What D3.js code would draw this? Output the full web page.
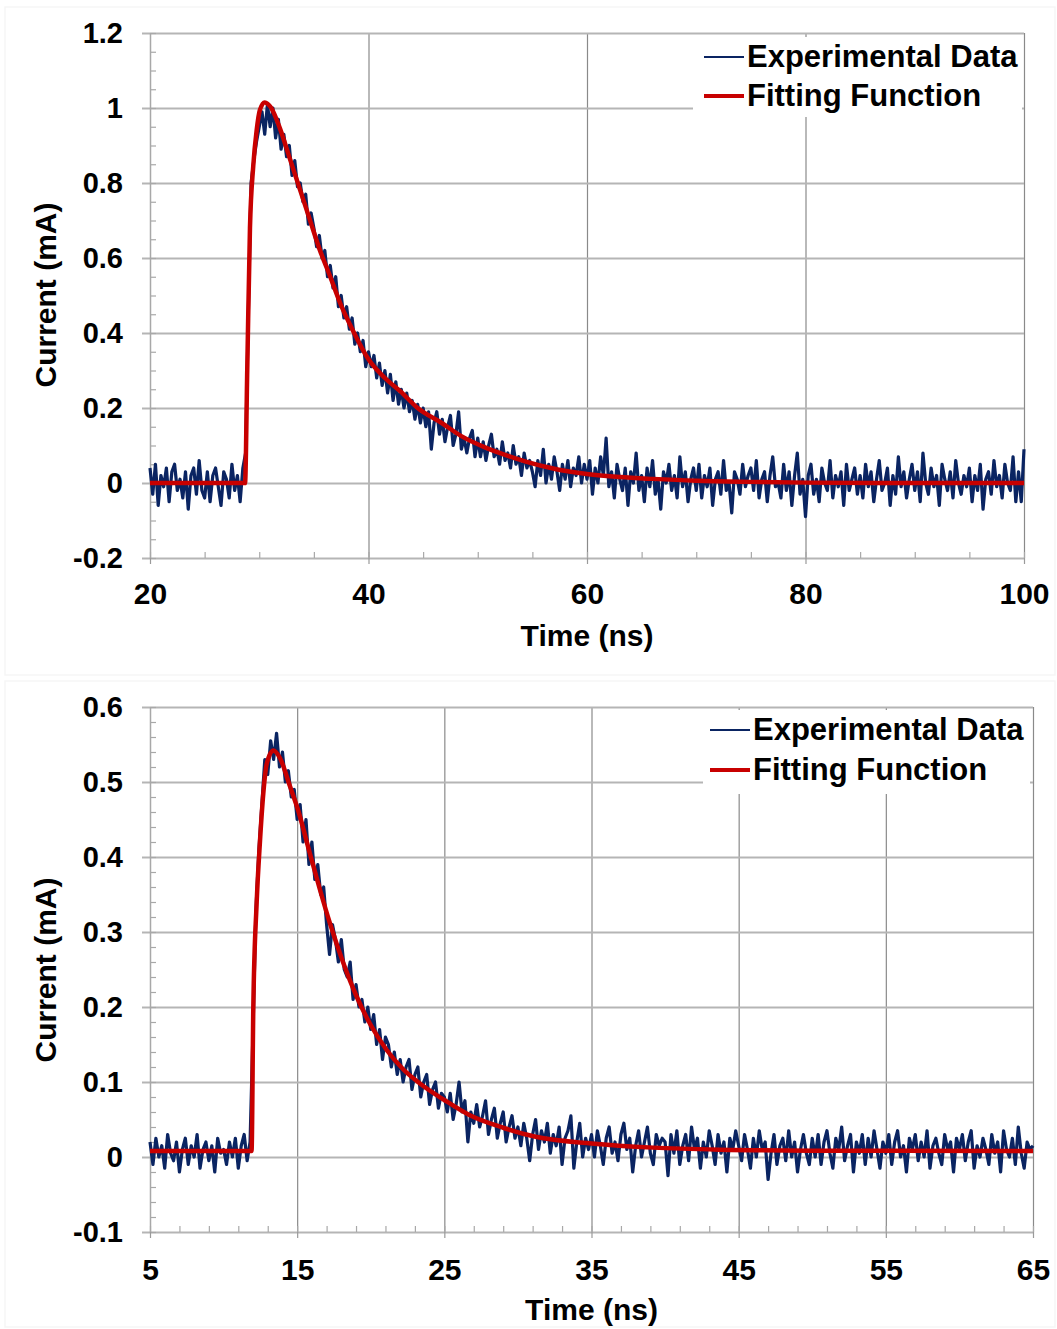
<!DOCTYPE html>
<html><head><meta charset="utf-8">
<script src="https://cdn.jsdelivr.net/npm/d3@7"></script>
<style>
body{margin:0;background:#fff;}
svg text{font-family:"Liberation Sans",Arial,Helvetica,sans-serif;font-weight:bold;fill:#000;}
</style>
</head><body>
<svg id="chart" width="1057" height="1329"></svg>
<script>
// ---------------- Panel 1 data ----------------
const p1TimeStart = 20, p1TimeStep = 0.25; // sampling grid of the measured trace (ns)
const p1Current = [
 0.04,-0.03,0.05,-0.06,0.02,-0.01,0.04,-0.05,0.03,0.05,-0.02,0.01,-0.04,0.03,-0.07,0.02,0.04,-0.03,0.06,-0.02,
 -0.04,0.03,-0.05,0.02,0.04,-0.01,-0.06,0.03,0.01,-0.04,0.05,-0.02,0.02,-0.05,0.04,0.08,0.45,0.80,0.86,0.91,
 0.95,0.99,0.93,1.01,0.95,1.00,0.92,0.97,0.89,0.93,0.87,0.90,0.82,0.86,0.79,0.80,0.75,0.77,0.69,0.72,
 0.68,0.63,0.66,0.60,0.62,0.55,0.58,0.52,0.55,0.47,0.50,0.44,0.47,0.41,0.44,0.37,0.40,0.35,0.38,0.31,
 0.35,0.31,0.34,0.28,0.32,0.26,0.30,0.24,0.29,0.22,0.27,0.21,0.25,0.20,0.24,0.19,0.22,0.17,0.21,0.16,
 0.20,0.15,0.19,0.09,0.16,0.19,0.13,0.17,0.11,0.15,0.18,0.10,0.13,0.19,0.09,0.12,0.08,0.12,0.14,0.07,
 0.12,0.07,0.11,0.06,0.10,0.13,0.07,0.09,0.05,0.11,0.06,0.08,0.04,0.10,0.05,0.07,0.02,0.08,0.04,0.06,
 0.03,-0.01,0.06,0.02,0.09,0.00,0.05,0.01,0.07,0.03,-0.02,0.05,0.01,0.06,-0.01,0.04,0.02,0.07,0.00,0.05,
 0.01,0.06,-0.03,0.04,0.00,0.07,0.02,0.12,-0.01,0.03,-0.04,0.05,0.01,-0.02,0.04,-0.06,0.03,0.00,0.08,-0.02,
 0.02,-0.05,0.04,-0.01,0.06,-0.03,0.01,-0.07,0.03,0.00,0.05,-0.02,0.02,-0.04,0.07,-0.01,0.03,-0.05,0.01,0.04,
 -0.02,0.05,-0.04,0.02,-0.01,0.04,-0.06,0.01,0.03,-0.03,0.06,-0.02,0.00,-0.08,0.03,0.01,-0.03,0.05,-0.01,0.02,
 0.04,-0.02,0.06,-0.04,0.01,0.03,-0.05,0.02,0.07,-0.01,0.00,-0.04,0.05,-0.02,0.03,-0.06,0.02,0.08,-0.03,0.01,
 -0.09,0.02,0.05,-0.03,0.01,-0.05,0.04,0.00,-0.02,0.06,-0.04,0.02,-0.01,0.03,-0.06,0.05,-0.02,0.01,0.04,-0.03,
 0.02,-0.04,0.05,-0.01,0.03,-0.05,0.01,0.06,-0.02,0.00,0.04,-0.06,0.02,-0.03,0.07,-0.01,0.03,-0.04,0.01,0.05,
 -0.02,0.03,-0.05,0.08,0.00,-0.03,0.04,-0.01,0.02,-0.06,0.05,0.01,-0.02,0.03,-0.04,0.06,0.00,-0.03,0.02,-0.01,
 0.04,-0.05,0.02,-0.02,0.05,-0.07,0.01,0.03,-0.03,0.06,-0.01,0.02,-0.04,0.05,0.00,-0.02,0.07,-0.05,0.03,-0.05,
 0.09
];
const p1FitTime = [20,28.7,28.9,29.15,29.45,29.76,30.06,30.5,31.1,31.9,32.8,33.7,34.6,35.5,36.5,37.4,38.6,40,41.5,42.9,44.5,46.7,48.5,50.5,52.5,54.4,57,60,63,66,70,75,80,90,100];
const p1FitCurrent = [0,0,0.3,0.68,0.845,0.94,0.995,1.015,1.0,0.945,0.865,0.785,0.705,0.625,0.55,0.48,0.405,0.33,0.28,0.245,0.2,0.16,0.125,0.097,0.075,0.057,0.038,0.024,0.016,0.011,0.006,0.003,0.001,0,0];
const p1XTicks = [20,40,60,80,100];
const p1XLabels = ["20","40","60","80","100"];
const p1YTicks = [-0.2,0,0.2,0.4,0.6,0.8,1,1.2];
const p1YLabels = ["-0.2","0","0.2","0.4","0.6","0.8","1","1.2"];

// ---------------- Panel 2 data ----------------
const p2TimeStart = 5, p2TimeStep = 0.2;
const p2Current = [
 0.02,-0.01,0.025,0.0,0.015,-0.015,0.03,0.005,-0.005,0.02,-0.02,0.01,0.025,-0.01,0.015,0.0,0.03,-0.015,0.01,0.02,-0.005,0.015,-0.02,0.025,0.005,
 0.01,-0.01,0.02,0.0,0.025,-0.015,0.015,0.03,-0.005,0.02,0.17,0.33,0.41,0.47,0.53,0.51,0.555,0.53,0.565,0.52,0.54,0.50,0.515,0.48,0.49,
 0.45,0.47,0.42,0.45,0.39,0.42,0.37,0.39,0.35,0.36,0.31,0.27,0.31,0.29,0.26,0.29,0.25,0.24,0.26,0.21,0.23,0.20,0.21,0.18,0.20,
 0.17,0.19,0.15,0.17,0.13,0.16,0.15,0.12,0.14,0.11,0.13,0.10,0.12,0.13,0.09,0.11,0.12,0.08,0.10,0.11,0.07,0.09,0.10,0.065,0.085,
 0.08,0.06,0.085,0.05,0.07,0.10,0.06,0.075,0.02,0.06,0.045,0.07,0.04,0.055,0.075,0.03,0.05,0.065,0.025,0.045,0.06,0.02,0.04,0.055,0.025,
 0.04,0.015,0.045,0.025,-0.005,0.03,0.05,0.01,0.035,0.02,0.045,0.005,0.03,0.015,0.04,-0.01,0.025,0.035,0.055,-0.015,0.02,0.045,0.0,0.025,0.01,
 0.03,0.0,0.035,0.015,-0.01,0.025,0.04,0.005,0.02,-0.005,0.03,0.045,0.01,0.025,-0.02,0.015,0.035,0.0,0.02,0.04,0.005,-0.01,0.03,0.015,0.025,
 0.02,-0.025,0.03,0.005,0.035,-0.01,0.015,0.03,-0.005,0.04,0.01,0.025,-0.015,0.02,0.0,0.035,0.015,-0.01,0.03,0.005,0.02,-0.02,0.025,0.01,0.035,
 0.015,-0.005,0.03,0.01,-0.015,0.025,0.0,0.035,0.01,0.02,-0.03,0.005,0.03,-0.01,0.015,0.025,-0.005,0.035,0.0,0.02,-0.02,0.01,0.03,0.005,-0.01,
 0.025,0.0,0.03,-0.01,0.02,0.035,0.005,-0.015,0.025,0.01,0.04,-0.005,0.015,0.03,-0.02,0.02,0.005,0.03,-0.01,0.025,0.0,0.035,0.01,-0.015,0.02,
 0.005,0.03,-0.01,0.02,0.035,0.0,0.015,-0.02,0.025,0.01,0.03,-0.005,0.02,0.0,0.035,-0.015,0.015,0.025,0.005,-0.01,0.03,0.01,0.02,-0.02,0.025,
 0.01,0.03,-0.005,0.02,0.035,-0.015,0.015,0.0,0.025,0.01,-0.01,0.03,0.005,0.02,-0.02,0.035,0.01,0.0,0.025,-0.01,0.04,0.005,-0.015,0.02,0.01,
 0.015
];
const p2FitTime = [5,11.9,12.02,12.25,12.47,12.7,12.93,13.38,13.83,14.5,15.07,15.86,16.54,17.22,18.13,19.04,19.94,21.07,22.2,23.34,25,26.7,29,31.2,35,39.2,43.7,50,65];
const p2FitCurrent = [0.008,0.008,0.2,0.34,0.42,0.485,0.524,0.542,0.532,0.495,0.462,0.405,0.357,0.312,0.259,0.214,0.178,0.143,0.117,0.098,0.076,0.056,0.039,0.027,0.018,0.0125,0.0098,0.0085,0.008];
const p2XTicks = [5,15,25,35,45,55,65];
const p2XLabels = ["5","15","25","35","45","55","65"];
const p2YTicks = [-0.1,0,0.1,0.2,0.3,0.4,0.5,0.6];
const p2YLabels = ["-0.1","0","0.1","0.2","0.3","0.4","0.5","0.6"];

const seriesNames = ["Experimental Data","Fitting Function"];
const xTitle = "Time (ns)", yTitle = "Current (mA)";

// ---------------- Drawing ----------------
const svg = d3.select("#chart");
const FONT = '"Liberation Sans",Arial,Helvetica,sans-serif';
const BLUE = "#0a2462", RED = "#c80000";

function panel(o) {
  const g = svg.append("g");
  g.append("rect").attr("x", o.frame[0]).attr("y", o.frame[1]).attr("width", o.frame[2]).attr("height", o.frame[3])
    .attr("fill", "none").attr("stroke", "#f6f6f6").attr("stroke-width", 1.5);
  const x = d3.scaleLinear().domain(o.xDomain).range([o.left, o.right]);
  const y = d3.scaleLinear().domain(o.yDomain).range([o.bottom, o.top]);
  const W = o.right - o.left, H = o.bottom - o.top;

  // vertical gridlines
  g.append("g").attr("transform", `translate(0,${o.bottom})`)
    .call(d3.axisBottom(x).tickValues(o.xTicks.slice(1)).tickSize(H).tickSizeOuter(0).tickFormat(""))
    .call(s => { s.select(".domain").remove(); s.selectAll(".tick line").attr("y2", -H).attr("stroke", "#8a8a8a").attr("stroke-width", 1.2); });
  // horizontal gridlines (+ outward major ticks)
  g.append("g").attr("transform", `translate(${o.left},0)`)
    .call(d3.axisLeft(y).tickValues(o.yTicks).tickSize(-W).tickFormat(""))
    .call(s => { s.select(".domain").remove(); s.selectAll(".tick line").attr("x1", -8).attr("stroke", "#b5b5b5").attr("stroke-width", 2); });
  // minor y ticks (inside)
  const yMinor = d3.range(o.yDomain[0], o.yDomain[1] + 1e-9, o.yMinorStep);
  g.append("g").attr("transform", `translate(${o.left},0)`)
    .call(d3.axisLeft(y).tickValues(yMinor).tickSize(-6).tickSizeOuter(0).tickFormat(""))
    .call(s => { s.select(".domain").attr("stroke", "#a8a8a8").attr("stroke-width", 1.5); s.selectAll(".tick line").attr("stroke", "#a8a8a8").attr("stroke-width", 1.2); });
  // minor x ticks (inside, upward)
  const xMinor = d3.range(o.xDomain[0], o.xDomain[1] + 1e-9, o.xMinorStep);
  g.append("g").attr("transform", `translate(0,${o.bottom})`)
    .call(d3.axisBottom(x).tickValues(xMinor).tickSize(-6).tickSizeOuter(0).tickFormat(""))
    .call(s => { s.select(".domain").remove(); s.selectAll(".tick line").attr("stroke", "#a8a8a8").attr("stroke-width", 1.2); });
  // y axis labels
  g.append("g").attr("transform", `translate(${o.left},0)`)
    .call(d3.axisLeft(y).tickValues(o.yTicks).tickSize(8).tickPadding(19).tickFormat((d, i) => o.yLabels[i]))
    .call(s => { s.select(".domain").remove(); s.selectAll(".tick line").remove();
      s.selectAll("text").attr("font-size", 29).attr("font-family", FONT).attr("font-weight", "bold").attr("fill", "#000"); });
  // x axis labels + major ticks
  g.append("g").attr("transform", `translate(0,${o.bottom})`)
    .call(d3.axisBottom(x).tickValues(o.xTicks).tickSize(6).tickPadding(o.xPad).tickFormat((d, i) => o.xLabels[i]))
    .call(s => { s.select(".domain").remove(); s.selectAll(".tick line").attr("stroke", "#9a9a9a").attr("stroke-width", 1.2);
      s.selectAll("text").attr("font-size", 30).attr("font-family", FONT).attr("font-weight", "bold").attr("fill", "#000"); });

  // experimental data
  const exp = o.current.map((v, i) => [o.t0 + i * o.dt, v]);
  const line = d3.line().x(d => x(d[0])).y(d => y(d[1]));
  g.append("path").datum(exp).attr("d", line).attr("fill", "none").attr("stroke", BLUE)
    .attr("stroke-width", o.expWidth).attr("stroke-linejoin", "round");
  // fit
  const fit = o.fitTime.map((t, i) => [t, o.fitCurrent[i]]);
  g.append("path").datum(fit).attr("d", d3.line().curve(d3.curveMonotoneX).x(d => x(d[0])).y(d => y(d[1])))
    .attr("fill", "none").attr("stroke", RED).attr("stroke-width", 4.5).attr("stroke-linejoin", "round");

  // legend
  const L = o.legend;
  g.append("rect").attr("x", L.x).attr("y", L.y).attr("width", L.w).attr("height", L.h).attr("fill", "#fff");
  [[BLUE, 2, L.row1], [RED, 4, L.row2]].forEach(([c, w, ry], i) => {
    g.append("line").attr("x1", L.lx1).attr("x2", L.lx2).attr("y1", ry).attr("y2", ry).attr("stroke", c).attr("stroke-width", w);
    g.append("text").attr("x", L.tx).attr("y", ry + 10).attr("font-size", 31).text(seriesNames[i]);
  });

  // titles
  g.append("text").attr("x", (o.left + o.right) / 2).attr("y", o.xTitleY).attr("text-anchor", "middle").attr("font-size", 30).text(xTitle);
  g.append("text").attr("transform", `translate(56,${o.yTitleY}) rotate(-90)`).attr("text-anchor", "middle").attr("font-size", 30).text(yTitle);
}

panel({
  frame: [5, 7, 1050, 668],
  xDomain: [20, 100], yDomain: [-0.2, 1.2], left: 150, right: 1024, top: 33, bottom: 558,
  xTicks: p1XTicks, xLabels: p1XLabels, yTicks: p1YTicks, yLabels: p1YLabels,
  yMinorStep: 0.05, xMinorStep: 5, xPad: 19,
  current: p1Current, t0: p1TimeStart, dt: p1TimeStep, expWidth: 3.2,
  fitTime: p1FitTime, fitCurrent: p1FitCurrent,
  legend: { x: 693, y: 37, w: 329, h: 80, lx1: 704, lx2: 744, tx: 747, row1: 57, row2: 96 },
  xTitleY: 646, yTitleY: 295
});
panel({
  frame: [5, 681, 1050, 646],
  xDomain: [5, 65], yDomain: [-0.1, 0.6], left: 150, right: 1033, top: 707, bottom: 1232,
  xTicks: p2XTicks, xLabels: p2XLabels, yTicks: p2YTicks, yLabels: p2YLabels,
  yMinorStep: 0.02, xMinorStep: 2, xPad: 21,
  current: p2Current, t0: p2TimeStart, dt: p2TimeStep, expWidth: 3.2,
  fitTime: p2FitTime, fitCurrent: p2FitCurrent,
  legend: { x: 703, y: 710, w: 327, h: 84, lx1: 710, lx2: 750, tx: 753, row1: 730, row2: 770 },
  xTitleY: 1320, yTitleY: 970
});
</script>
</body></html>
